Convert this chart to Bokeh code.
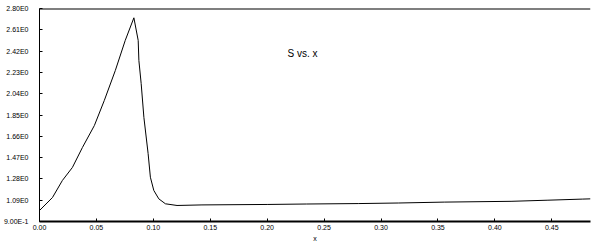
from bokeh.plotting import figure
from bokeh.models import Range1d, FixedTicker, Label, Span
from bokeh.embed import file_html
from bokeh.resources import INLINE

# Data
x_vals = [0.0, 0.0114, 0.0201, 0.0289, 0.0377, 0.0482, 0.0569, 0.0666, 0.0753,
          0.0829, 0.0867, 0.0873, 0.0893, 0.0917, 0.0954, 0.0974, 0.1004, 0.1048,
          0.1106, 0.1208, 0.1427, 0.2000, 0.2347, 0.2800, 0.3152, 0.3555, 0.4142,
          0.4466, 0.4772, 0.4840]
s_vals = [0.998, 1.114, 1.266, 1.382, 1.560, 1.756, 1.979, 2.247, 2.515,
          2.717, 2.515, 2.336, 2.131, 1.828, 1.507, 1.295, 1.177, 1.102,
          1.058, 1.043, 1.048, 1.052, 1.056, 1.060, 1.065, 1.073, 1.080,
          1.090, 1.100, 1.102]

y_ticks = [0.9, 1.09, 1.28, 1.47, 1.66, 1.85, 2.04, 2.23, 2.42, 2.61, 2.80]
y_tick_labels = ["9.00E-1", "1.09E0", "1.28E0", "1.47E0", "1.66E0", "1.85E0",
                 "2.04E0", "2.23E0", "2.42E0", "2.61E0", "2.80E0"]
x_ticks = [0.0, 0.05, 0.10, 0.15, 0.20, 0.25, 0.30, 0.35, 0.40, 0.45]
x_tick_labels = ["0.00", "0.05", "0.10", "0.15", "0.20", "0.25", "0.30",
                 "0.35", "0.40", "0.45"]
title_text = "S vs. x"
x_label = "x"

FONT = "Liberation Sans"

p = figure(width=594, height=249, output_backend="svg", toolbar_location=None,
           x_range=Range1d(0, 0.484), y_range=Range1d(0.9, 2.8))
p.min_border_left = 37
p.min_border_right = 4
p.min_border_top = 8
p.min_border_bottom = 28
p.outline_line_color = None
p.background_fill_color = "white"
p.border_fill_color = "white"
p.xgrid.visible = False
p.ygrid.visible = False

p.line(x_vals, s_vals, line_color="black", line_width=1)

# axes
yax = p.yaxis[0]
yax.ticker = FixedTicker(ticks=y_ticks)
yax.major_label_overrides = {t: l for t, l in zip(y_ticks, y_tick_labels)}
yax.major_tick_in = 3
yax.major_tick_out = 0
yax.minor_tick_in = 0
yax.minor_tick_out = 0
yax.major_label_standoff = 11
yax.major_label_text_font = FONT
yax.major_label_text_font_size = "7px"
yax.major_label_text_color = "black"
yax.axis_line_color = "black"
yax.axis_line_width = 1

xax = p.xaxis[0]
xax.ticker = FixedTicker(ticks=x_ticks)
xax.major_label_overrides = {t: l for t, l in zip(x_ticks, x_tick_labels)}
xax.major_tick_in = 3
xax.major_tick_out = 0
xax.minor_tick_in = 0
xax.minor_tick_out = 0
xax.major_label_standoff = 3
xax.major_label_text_font = FONT
xax.major_label_text_font_size = "7px"
xax.major_label_text_color = "black"
xax.axis_line_color = "black"
xax.axis_line_width = 2
xax.axis_label = x_label
xax.axis_label_text_font = FONT
xax.axis_label_text_font_size = "7px"
xax.axis_label_text_font_style = "normal"
xax.axis_label_standoff = 2
xax.axis_label_text_color = "black"

# top border line
p.add_layout(Span(location=2.8, dimension="width", line_color="black", line_width=2))

# title inside plot
p.add_layout(Label(x=0.231, y=2.40, text=title_text, text_font=FONT,
                   text_font_size="10px", text_color="black",
                   text_align="center", text_baseline="middle"))

open("out.html", "w").write(file_html(p, INLINE))
